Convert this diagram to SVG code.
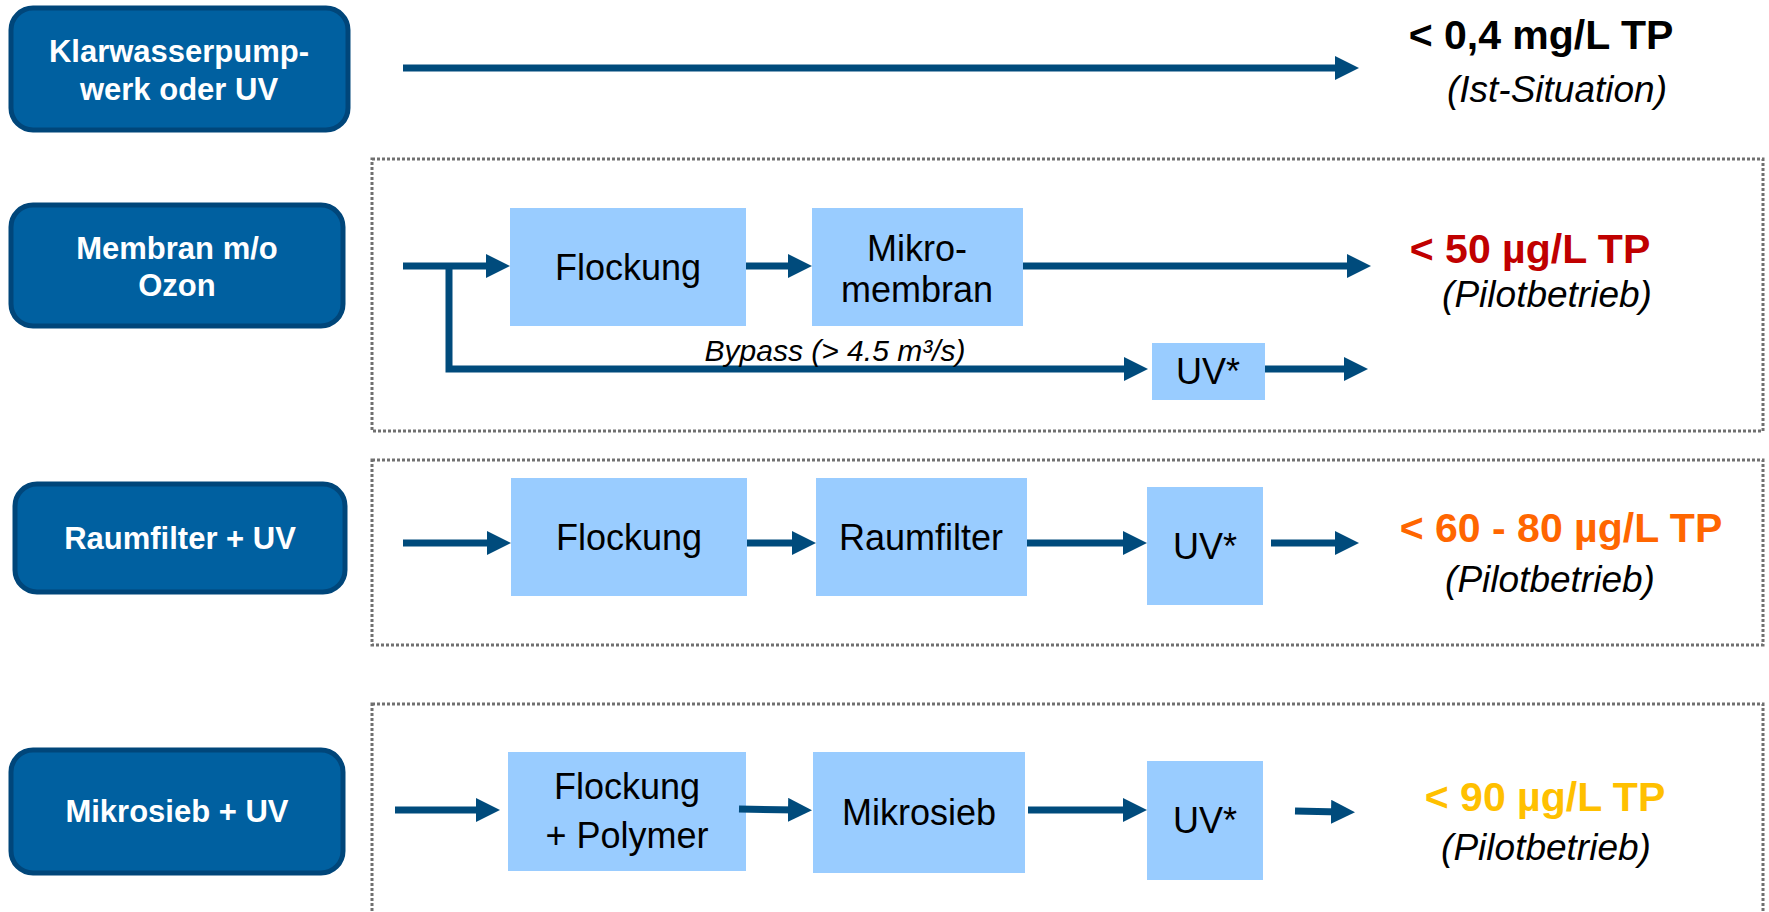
<svg xmlns="http://www.w3.org/2000/svg" width="1769" height="912" viewBox="0 0 1769 912">
<style>
.node rect{fill:#0060A0;stroke:#00467A;stroke-width:5}
.node text{font-family:"Liberation Sans",Arial,sans-serif;font-weight:bold;font-size:31px;fill:#fff;text-anchor:middle}
.proc rect{fill:#99CCFF}
.proc text{font-family:"Liberation Sans",Arial,sans-serif;font-size:36px;fill:#000;text-anchor:middle}
.grp{fill:none;stroke:#707070;stroke-width:3;stroke-dasharray:3 2}
.conn{fill:none;stroke:#004B7C;stroke-width:7;marker-end:url(#ah)}
.res{font-family:"Liberation Sans",Arial,sans-serif;font-weight:bold;font-size:41px;text-anchor:middle}
.note{font-family:"Liberation Sans",Arial,sans-serif;font-style:italic;font-size:37px;fill:#000;text-anchor:middle}
</style>
<defs>
<marker id="ah" markerWidth="24" markerHeight="24" refX="9" refY="12" orient="auto" markerUnits="userSpaceOnUse">
<path d="M0,0 L24,12 L0,24 z" fill="#004B7C"/>
</marker>
</defs>

<g id="groups">
<rect class="grp" x="372" y="159" width="1391" height="272"/>
<rect class="grp" x="372" y="460" width="1391" height="185"/>
<rect class="grp" x="372" y="704" width="1391" height="240"/>
</g>

<g id="node-klarwasser" class="node">
<rect x="11" y="8" width="337" height="122" rx="22"/>
<text x="179" y="62">Klarwasserpump-</text>
<text x="179" y="100">werk oder UV</text>
</g>
<g id="node-membran" class="node">
<rect x="11" y="205" width="332" height="121" rx="22"/>
<text x="177" y="259">Membran m/o</text>
<text x="177" y="296">Ozon</text>
</g>
<g id="node-raumfilter" class="node">
<rect x="15" y="484" width="330" height="108" rx="22"/>
<text x="180" y="549">Raumfilter + UV</text>
</g>
<g id="node-mikrosieb" class="node">
<rect x="11" y="750" width="332" height="123" rx="22"/>
<text x="177" y="822">Mikrosieb + UV</text>
</g>

<g id="p2-flockung" class="proc"><rect x="510" y="208" width="236" height="118"/><text x="628" y="280">Flockung</text></g>
<g id="p2-mikromembran" class="proc"><rect x="812" y="208" width="211" height="118"/><text x="917" y="261">Mikro-</text><text x="917" y="302">membran</text></g>
<g id="p2-uv" class="proc"><rect x="1152" y="343" width="113" height="57"/><text x="1208" y="384">UV*</text></g>

<g id="p3-flockung" class="proc"><rect x="511" y="478" width="236" height="118"/><text x="629" y="550">Flockung</text></g>
<g id="p3-raumfilter" class="proc"><rect x="816" y="478" width="211" height="118"/><text x="921" y="550">Raumfilter</text></g>
<g id="p3-uv" class="proc"><rect x="1147" y="487" width="116" height="118"/><text x="1205" y="559">UV*</text></g>

<g id="p4-flockung" class="proc"><rect x="508" y="752" width="238" height="119"/><text x="627" y="799">Flockung</text><text x="627" y="848">+ Polymer</text></g>
<g id="p4-mikrosieb" class="proc"><rect x="813" y="752" width="212" height="121"/><text x="919" y="825">Mikrosieb</text></g>
<g id="p4-uv" class="proc"><rect x="1147" y="761" width="116" height="119"/><text x="1205" y="833">UV*</text></g>

<g id="connectors">
<path class="conn" d="M403,68 L1344,68"/>
<path class="conn" d="M403,266 L495,266"/>
<path d="M449,266 L449,369 L1133,369" fill="none" stroke="#004B7C" stroke-width="7" marker-end="url(#ah)"/>
<path class="conn" d="M746,266 L797,266"/>
<path class="conn" d="M1023,266 L1356,266"/>
<path class="conn" d="M1265,369 L1353,369"/>
<path class="conn" d="M403,543 L496,543"/>
<path class="conn" d="M747,543 L801,543"/>
<path class="conn" d="M1027,543 L1132,543"/>
<path class="conn" d="M1271,543 L1344,543"/>
<path class="conn" d="M395,810 L485,810"/>
<path class="conn" d="M739,809 L797,810"/>
<path class="conn" d="M1028,810 L1132,810"/>
<path class="conn" d="M1295,811 L1340,812"/>
</g>

<g id="labels">
<text class="res" x="1541" y="49" fill="#000">&lt; 0,4 mg/L TP</text>
<text class="note" x="1557" y="102">(Ist-Situation)</text>
<text class="res" x="1530" y="263" fill="#C00000">&lt; 50 µg/L TP</text>
<text class="note" x="1547" y="307">(Pilotbetrieb)</text>
<text class="note" x="835" y="361" style="font-size:30px">Bypass (&gt; 4.5 m³/s)</text>
<text class="res" x="1561" y="542" fill="#FF6600">&lt; 60 - 80 µg/L TP</text>
<text class="note" x="1550" y="592">(Pilotbetrieb)</text>
<text class="res" x="1545" y="811" fill="#FFC000">&lt; 90 µg/L TP</text>
<text class="note" x="1546" y="860">(Pilotbetrieb)</text>
</g>
</svg>
